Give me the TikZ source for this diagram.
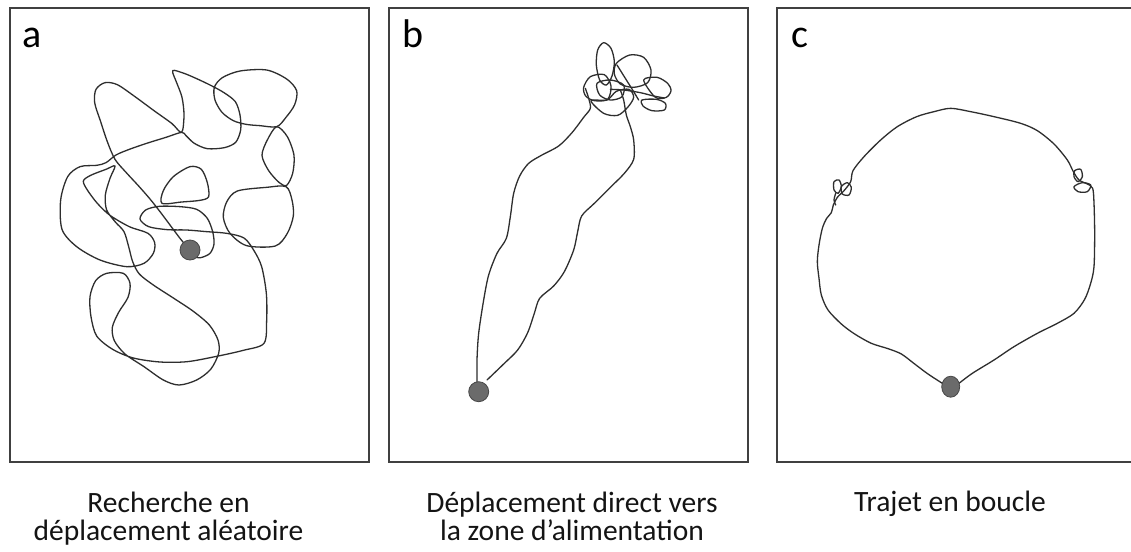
\documentclass[tikz,border=0pt]{standalone}
\usepackage{fontspec}
\setmainfont{Carlito}
\usetikzlibrary{shapes.geometric}
\tikzset{
  panelbox/.style={draw=black!75, line width=1.8pt, rectangle, minimum width=359pt, minimum height=454pt, inner sep=0pt},
  trackline/.style={draw=black!82, line width=1.3pt, line join=round, line cap=round},
  startdot/.style={circle, fill=black!58, draw=black!72, line width=0.8pt, minimum size=20pt, inner sep=0pt},
  captext/.style={font=\fontsize{29.5}{28}\selectfont, anchor=base, text=black!92, inner sep=0pt},
  panellabel/.style={font=\fontsize{40}{44}\selectfont, anchor=base west, text=black, inner sep=0pt}
}
\begin{document}
\begin{tikzpicture}[x=1pt,y=-1pt]
\useasboundingbox[fill=white] (0,0) rectangle (1131,551);
% panel frames
\node[panelbox] (pa) at (189.5,235) {};
\node[panelbox] (pb) at (568.5,235) {};
\node[panelbox] (pc) at (956.5,235) {};
% panel letters
\node[panellabel] (la) at (22,47.5) {a};
\node[panellabel] (lb) at (402,47.5) {b};
\node[panellabel] (lc) at (791,47.5) {c};
% captions
\node[captext] (ca1) at (168.5,512.7) {Recherche en};
\node[captext] (ca2) at (168.5,540.3) {déplacement aléatoire};
\node[captext] (cb1) at (572,512.7) {Déplacement direct vers};
\node[captext] (cb2) at (572,540.3) {la zone d’alimentation};
\node[captext] (cc1) at (950,511.5) {Trajet en boucle};

% ---------- panel a ----------
\begin{scope}[scale=1/3]
\draw[trackline] plot[smooth] coordinates {(565,745)(540,715)(510,675)(480,635)(450,597)(415,557)(378,517)(345,478)(322,425)(302,365)(284,308)(288,268)(315,248)(352,254)(405,290)(462,332)(515,370)(545,397)(552,345)(546,292)(530,248)(518,212)(552,220)(590,236)(632,256)(672,278)(706,305)(720,345)(722,390)(707,427)(673,443)(622,446)(583,430)(558,407)(545,397)(498,412)(440,430)(388,448)(348,465)(318,488)(290,496)(240,500)(203,530)(182,600)(186,688)(230,740)(300,780)(380,800)(432,790)(460,760)(464,728)(444,700)(388,680)(330,646)(292,610)(262,570)(250,543)(272,526)(318,508)(345,498)(330,535)(316,585)(320,630)(346,666)(372,695)(386,740)(398,785)(418,822)(460,855)(520,894)(580,934)(628,975)(654,1020)(656,1060)(632,1108)(590,1140)(537,1155)(490,1140)(432,1100)(375,1062)(343,1022)(337,982)(356,937)(384,892)(390,850)(370,820)(320,820)(287,842)(270,890)(273,950)(290,1008)(338,1048)(400,1074)(480,1086)(562,1085)(650,1069)(730,1051)(792,1030)(800,960)(799,880)(785,800)(762,752)(732,714)(680,700)(620,695)(560,690)(502,689)(446,680)(420,657)(437,630)(478,619)(540,620)(590,628)(622,655)(638,695)(642,732)(630,760)(602,773)(578,770)};
\draw[trackline] plot[smooth cycle] coordinates {(645,300)(643,262)(667,233)(720,213)(800,210)(860,237)(890,272)(884,314)(858,352)(830,380)(780,377)(738,373)(700,362)(666,337)};
\draw[trackline] plot[smooth cycle] coordinates {(830,380)(802,420)(786,466)(806,512)(838,548)(860,556)(878,520)(882,466)(862,410)};
\draw[trackline] plot[smooth cycle] coordinates {(858,560)(800,562)(712,573)(680,606)(670,652)(690,700)(740,737)(826,738)(862,700)(880,648)(876,600)};
\draw[trackline] plot[smooth cycle] coordinates {(486,610)(490,572)(520,530)(570,500)(604,508)(622,548)(626,590)(600,601)(545,606)};
\end{scope}
\node[startdot] (da) at (190,250) {};

% ---------- panel b ----------
\begin{scope}[shift={(377,0)},scale=1/3]
\draw[trackline] plot[smooth] coordinates {(300,1150)(300,1080)(305,1000)(320,900)(335,825)(360,760)(388,715)(400,650)(410,580)(428,528)(455,490)(495,465)(545,438)(585,398)(620,352)(640,325)(635,295)(625,265)};
\draw[trackline] plot[smooth] coordinates {(330,1140)(380,1092)(422,1050)(452,998)(472,940)(488,895)(530,858)(562,815)(590,750)(602,695)(614,648)(652,610)(700,562)(742,520)(770,478)(770,420)(760,380)(748,345)(740,300)(730,270)};
\draw[trackline] plot[smooth cycle] coordinates {(662,150)(680,128)(702,145)(712,185)(705,228)(688,255)(668,240)(658,195)};
\draw[trackline] plot[smooth cycle] coordinates {(718,190)(758,165)(800,172)(822,210)(812,248)(770,262)(730,252)(712,222)};
\draw[trackline] plot[smooth cycle] coordinates {(800,240)(840,232)(872,250)(882,272)(868,292)(835,292)};
\draw[trackline] plot[smooth cycle] coordinates {(795,300)(838,298)(865,310)(862,330)(825,332)(798,318)};
\draw[trackline] plot[smooth cycle] coordinates {(620,262)(640,230)(682,224)(702,258)(692,298)(652,302)(626,288)};
\draw[trackline] plot[smooth cycle] coordinates {(642,302)(680,340)(722,346)(752,322)(770,292)(756,268)(718,274)(690,300)};
\draw[trackline] plot[smooth] coordinates {(700,268)(740,270)(790,278)(830,288)(862,294)};
\draw[trackline] plot[smooth] coordinates {(720,195)(745,235)(770,275)(785,300)};
\draw[trackline] plot[smooth cycle] coordinates {(660,250)(700,240)(740,255)(735,290)(700,300)(668,285)};
\end{scope}
\node[startdot] (db) at (478.7,391.7) {};

% ---------- panel c ----------
\begin{scope}[shift={(754,0)},scale=1/3]
\draw[trackline] plot[smooth] coordinates {(615,1150)(655,1120)(720,1080)(780,1040)(850,1000)(910,970)(960,940)(992,898)(1010,850)(1020,800)(1022,700)(1020,610)(1016,565)(1000,552)(975,540)(958,515)(940,480)(900,432)(850,392)(800,370)(720,350)(650,335)(590,325)(540,335)(488,350)(430,380)(380,420)(330,470)(297,512)(290,545)(270,572)(250,592)(238,615)(232,638)(218,655)(205,685)(195,735)(190,785)(195,835)(202,885)(222,930)(262,972)(302,1002)(352,1030)(402,1046)(442,1062)(482,1092)(522,1122)(565,1150)};
\draw[trackline] plot[smooth cycle] coordinates {(240,545)(255,540)(262,560)(252,580)(240,570)};
\draw[trackline] plot[smooth cycle] coordinates {(262,560)(280,548)(292,562)(285,585)(265,582)};
\draw[trackline] plot[smooth] coordinates {(245,580)(240,600)(245,615)};
\draw[trackline] plot[smooth cycle] coordinates {(962,512)(980,508)(985,530)(972,545)(960,530)};
\draw[trackline] plot[smooth cycle] coordinates {(960,560)(985,548)(1010,555)(1000,575)(972,575)};
\end{scope}
\node[startdot, ellipse, minimum width=18pt, minimum height=21pt] (dc) at (950.7,386.7) {};
\end{tikzpicture}
\end{document}
